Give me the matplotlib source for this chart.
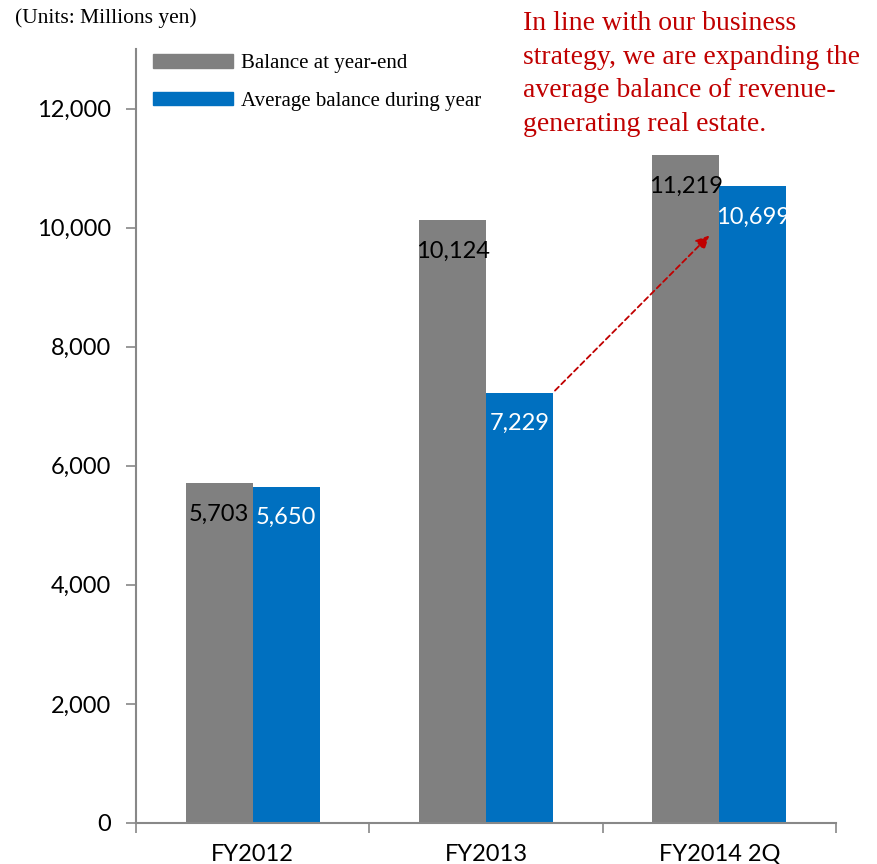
import numpy as np
import matplotlib.pyplot as plt
from matplotlib.patches import Patch
from matplotlib.ticker import FuncFormatter

# Data (millions of yen)
categories = ['FY2012', 'FY2013', 'FY2014 2Q']
balance_year_end = [5703, 10124, 11219]
average_balance = [5650, 7229, 10699]

gray = '#808080'
blue = '#0070C0'
red = '#C00000'

fig = plt.figure(figsize=(8.77, 8.64), dpi=100)
ax = fig.add_axes([0.1551, 0.0475, 0.7982, 0.8958])

x = np.arange(len(categories))
width = 0.287

bars1 = ax.bar(x - width / 2, balance_year_end, width, color=gray, zorder=2)
bars2 = ax.bar(x + width / 2, average_balance, width, color=blue, zorder=2)

# value labels placed just inside the top of each bar
label_font = dict(family='Lato', fontsize=17)
for b, v in zip(bars1, balance_year_end):
    ax.annotate(f'{v:,}', (b.get_x() + b.get_width() / 2, v),
                xytext=(0, -31), textcoords='offset pixels',
                ha='center', va='center', color='black', **label_font)
for b, v in zip(bars2, average_balance):
    ax.annotate(f'{v:,}', (b.get_x() + b.get_width() / 2, v),
                xytext=(0, -31), textcoords='offset pixels',
                ha='center', va='center', color='white', **label_font)

# axes limits and ticks
ax.set_xlim(-0.5, len(categories) - 0.5)
ax.set_ylim(0, 13000)
ax.set_yticks(np.arange(0, 12001, 2000))
ax.yaxis.set_major_formatter(FuncFormatter(lambda v, p: f'{int(v):,}'))

ax.set_xticks(np.arange(-0.5, len(categories), 1.0))
ax.set_xticklabels([])
ax.set_xticks(x, minor=True)
ax.set_xticklabels(categories, minor=True)
ax.tick_params(axis='x', which='minor', length=0, pad=15)
ax.tick_params(axis='x', which='major', length=7, color='#888888', width=1.2)
ax.tick_params(axis='y', length=7, color='#888888', width=1.2, pad=11)
for lab in ax.get_yticklabels() + ax.get_xticklabels(minor=True):
    lab.set_fontfamily('Lato')
    lab.set_fontsize(17)

ax.spines['right'].set_visible(False)
ax.spines['top'].set_visible(False)
ax.spines['left'].set_color('#888888')
ax.spines['bottom'].set_color('#888888')
ax.spines['left'].set_linewidth(1.5)
ax.spines['bottom'].set_linewidth(1.5)

# legend with wide flat swatches like the original
handles = [Patch(color=gray, label='Balance at year-end'),
           Patch(color=blue, label='Average balance during year')]
leg = ax.legend(handles=handles, loc='upper left',
                bbox_to_anchor=(145 / 877, 1 - 46 / 864),
                bbox_transform=fig.transFigure, frameon=False,
                handlelength=3.8, handleheight=0.6, handletextpad=0.4,
                labelspacing=0.9, borderaxespad=0,
                prop={'family': 'Liberation Serif', 'size': 15})

# units note and commentary text
fig.text(15 / 877, 1 - 18 / 864, '(Units: Millions yen)',
         family='Liberation Serif', fontsize=15.5, ha='left', va='center')
fig.text(523 / 877, 1 - 11 / 864,
         'In line with our business\nstrategy, we are expanding the\n'
         'average balance of revenue-\ngenerating real estate.',
         family='Liberation Serif', fontsize=20, color=red,
         ha='left', va='top', linespacing=1.46)

# dashed arrow from the FY2013 average to the FY2014 2Q average
ax.annotate('', xy=(1.965, 9900), xytext=(1 + width, average_balance[1]),
            arrowprops=dict(arrowstyle='-|>', color=red, lw=1.3,
                            linestyle=(0, (3, 2)), mutation_scale=20),
            zorder=5)

plt.savefig('out.png', dpi=100)
